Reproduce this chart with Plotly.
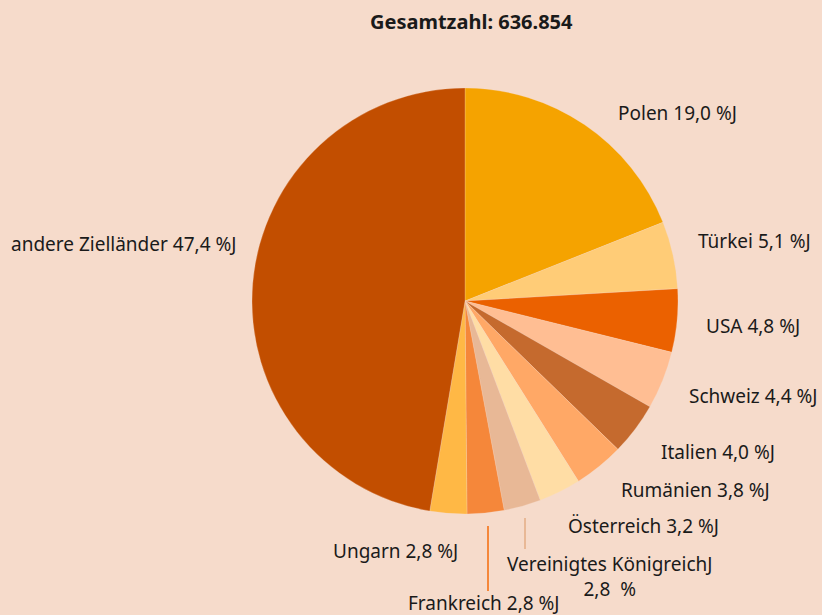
import plotly.graph_objects as go

W, H = 822, 615
BG = "#F6DBCB"

countries = ["Polen", "Türkei", "USA", "Schweiz", "Italien", "Rumänien", "Österreich",
             "Vereinigtes Königreich", "Frankreich", "Ungarn", "andere Zielländer"]
shares = [19.0, 5.1, 4.8, 4.4, 4.0, 3.8, 3.2, 2.8, 2.8, 2.8, 47.4]
label_texts = ["Polen 19,0 %J", "Türkei 5,1 %J", "USA 4,8 %J", "Schweiz 4,4 %J",
               "Italien 4,0 %J", "Rumänien 3,8 %J", "Österreich 3,2 %J",
               "Vereinigtes KönigreichJ<br>2,8  %", "Frankreich 2,8 %J",
               "Ungarn 2,8 %J", "andere Zielländer 47,4 %J"]
colors = ["#F5A300", "#FFCC77", "#EB6100", "#FFBE93", "#C56A2E", "#FFA866",
          "#FFDDA5", "#E8B896", "#F5873A", "#FFB845", "#C24E00"]
title_text = "<b>Gesamtzahl: 636.854</b>"

# label anchor positions in pixels (x, y, xanchor)
label_pos = [(616, 113, "left"), (696, 241, "left"), (704, 326, "left"),
             (687, 396, "left"), (659, 452, "left"), (619, 490, "left"),
             (566, 526, "left"), (610, 576, "center"), (406, 603, "left"),
             (331, 551, "left"), (9, 244, "left")]

def px(x):
    return x / W

def py(y):
    return 1 - y / H

fig = go.Figure(go.Pie(
    labels=countries, values=shares, sort=False, direction="clockwise", rotation=0,
    marker=dict(colors=colors, line=dict(color="rgba(246,219,203,0.5)", width=0.5)),
    textinfo="none", hoverinfo="label+percent", showlegend=False,
    domain=dict(x=[px(252), px(678)], y=[py(514), py(88)]),
))

font = "Noto Sans"
for t, (x, y, xa) in zip(label_texts, label_pos):
    fig.add_annotation(x=px(x), y=py(y), xref="paper", yref="paper", text=t,
                       showarrow=False, xanchor=xa, yanchor="middle",
                       font=dict(family=font, size=19, color="#1a1a1a"), align="center")

fig.add_annotation(x=px(471), y=py(22), xref="paper", yref="paper", text=title_text,
                   showarrow=False, xanchor="center", yanchor="middle",
                   font=dict(family=font, size=20, color="#1a1a1a"))

# leader lines
fig.add_shape(type="line", xref="paper", yref="paper", x0=px(488), x1=px(488),
              y0=py(526), y1=py(591), line=dict(color=colors[8], width=2))
fig.add_shape(type="line", xref="paper", yref="paper", x0=px(525), x1=px(525),
              y0=py(518), y1=py(549), line=dict(color=colors[7], width=2))

fig.update_layout(width=W, height=H, margin=dict(l=0, r=0, t=0, b=0),
                  paper_bgcolor=BG, plot_bgcolor=BG)
fig.write_html("out.html", config={"displayModeBar": False},
               post_script="document.body.style.margin='0';document.body.style.padding='0';"
                           "document.body.style.overflow='hidden';")
